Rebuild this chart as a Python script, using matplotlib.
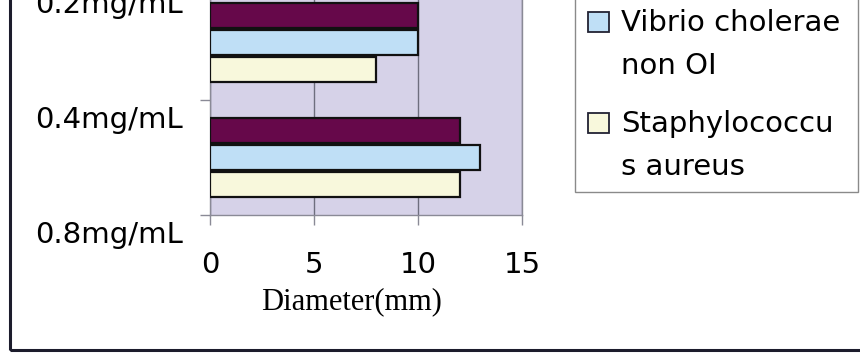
import numpy as np
import matplotlib
matplotlib.use('Agg')
import matplotlib.pyplot as plt
from matplotlib.patches import Rectangle
import matplotlib.transforms as mtransforms

# concentration labels on the category axis (only the lower part of the chart is visible)
categories = ['0.2mg/mL', '0.4mg/mL', '0.8mg/mL']
tick_pos = [-0.5, 0.5, 1.5]
group_pos = [0, 1]

# inhibition zone diameters (mm)
series_names = ['Escherichia\ncoli', 'Vibrio cholerae\nnon OI', 'Staphylococcu\ns aureus']
purple_vals = [10, 12]
blue_vals = [10, 13]
yellow_vals = [8, 12]

colors = ['#66084a', '#bfdff6', '#f8f8dc']
xticks = [0, 5, 10, 15]

W, H = 860, 353
fig = plt.figure(figsize=(W / 100, H / 100), dpi=100)
fig.patch.set_facecolor('white')


def px(x, y):
    # pixel position (from top-left) -> figure fraction
    return x / W, 1 - y / H


# plot area: left 210px, right 522px, bottom 215px, top above the image edge
ax = fig.add_axes([210 / W, 1 - 215 / H, 312 / W, 230 / H])
ax.set_facecolor('#d6d2e8')

offsets = [-0.235, 0.0, 0.235]
bar_h = 0.225
for vals, off, c, name in zip([purple_vals, blue_vals, yellow_vals], offsets, colors, series_names):
    ax.barh(np.array(group_pos) + off, vals, height=bar_h, color=c,
            edgecolor='#111111', linewidth=1.6, label=name, zorder=3)

ax.set_xlim(0, 15)
ax.set_ylim(1.5, -0.5)
ax.set_xticks(xticks)
ax.set_xticklabels([str(t) for t in xticks], fontsize=21)
ax.set_yticks(tick_pos)
ax.set_yticklabels(categories, fontsize=21)

ax.grid(axis='x', color='#6e6e7e', linewidth=1.0, zorder=1)
for s in ax.spines.values():
    s.set_color('#8a8a96')
    s.set_linewidth(1.0)

ax.tick_params(axis='both', direction='out', length=7.2, color='#8a8a96', width=1.0)
ax.tick_params(axis='y', pad=12)
ax.tick_params(axis='x', pad=18.5)

# labels sit a little below their tick marks
shift = mtransforms.ScaledTranslation(0, -17 / 100, fig.dpi_scale_trans)
for lab in ax.get_yticklabels():
    lab.set_transform(lab.get_transform() + shift)

ax.set_xlabel('Diameter(mm)', fontsize=22, family='Liberation Serif')
ax.xaxis.set_label_coords(142 / 312, -72 / 230)

# legend box drawn by hand so the swatch lines up with the first text line
lx0, ly1 = 575, 192
fig.add_artist(Rectangle(px(lx0, ly1), (858 - lx0) / W, 1.0, transform=fig.transFigure,
                         facecolor='white', edgecolor='#8a8a8a', linewidth=1.0, zorder=4))
pitch = 101
for i, (name, c) in enumerate(zip(series_names, colors)):
    yc = 22 + (i - 1) * pitch
    fig.add_artist(Rectangle(px(588, yc + 10), 21 / W, 20 / H, transform=fig.transFigure,
                             facecolor=c, edgecolor='#222233', linewidth=1.3, zorder=5))
    fig.text(*px(621, yc + 12), name, fontsize=21, va='center_baseline', ha='left',
             linespacing=1.7, zorder=5,
             transform=fig.transFigure)

# outer chart border (top and right run off the image)
fig.add_artist(Rectangle((10 / W, 3 / H), 2, 2, transform=fig.transFigure,
                         fill=False, linewidth=2.2, edgecolor='#1c1c2c'))

fig.savefig('out.png', dpi=100)
